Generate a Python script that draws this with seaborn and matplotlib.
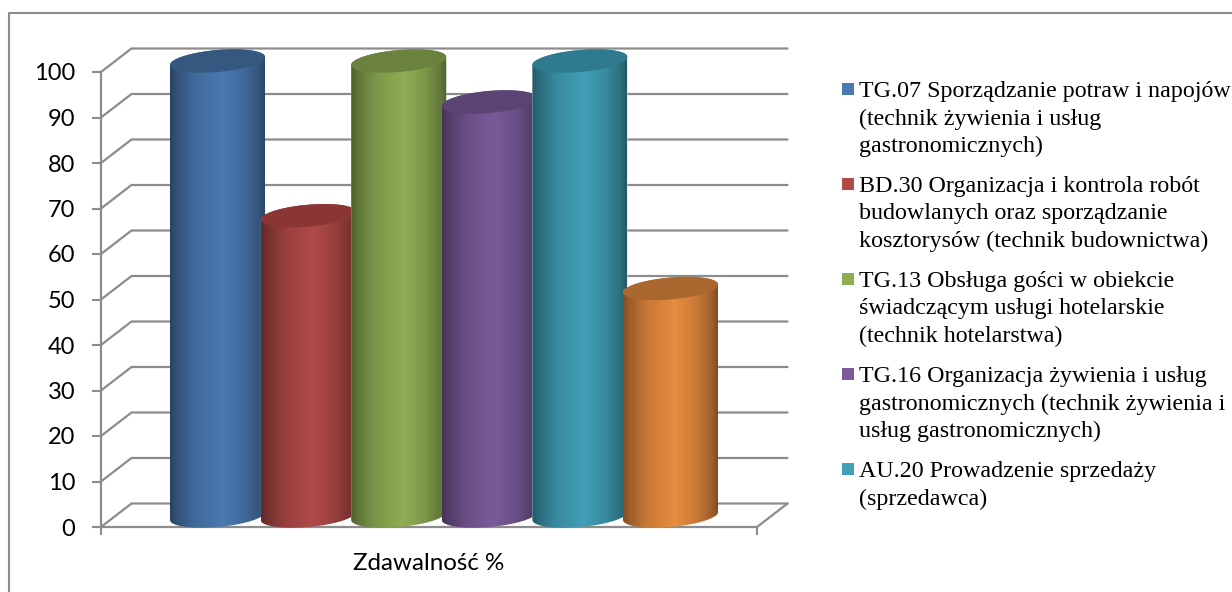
import numpy as np
import pandas as pd
import matplotlib
matplotlib.use("Agg")
import matplotlib.pyplot as plt
from matplotlib.patches import Rectangle, Polygon
import seaborn as sns

# values
category = "Zdawalność %"
series = ["TG.07", "BD.30", "TG.13", "TG.16", "AU.20", "inne"]
values = [100, 66, 100, 91, 100, 50]
colors = ["#4a7ab2", "#b04a48", "#8fae54", "#7a5b99", "#419fb8", "#e88c40"]
cap_colors = ["#34587f", "#8a3634", "#6b823f", "#5b4473", "#2f7a8e", "#aa6830"]
y_ticks = list(range(0, 101, 10))
legend_labels = [
    "TG.07 Sporządzanie potraw i napojów\n(technik żywienia i usług\ngastronomicznych)",
    "BD.30 Organizacja i kontrola robót\nbudowlanych oraz sporządzanie\nkosztorysów (technik budownictwa)",
    "TG.13 Obsługa gości w obiekcie\nświadczącym usługi hotelarskie\n(technik hotelarstwa)",
    "TG.16 Organizacja żywienia i usług\ngastronomicznych (technik żywienia i\nusług gastronomicznych)",
    "AU.20 Prowadzenie sprzedaży\n(sprzedawca)",
]

W, H = 1232, 592
GREY = "#8c8c8c"
sns.set_theme(style="white")
plt.rcParams["font.family"] = ["Lato", "DejaVu Sans"]

fig = plt.figure(figsize=(W / 100, H / 100), dpi=100)
# front plane of the fake 3d box, in pixels
left, right, top, bottom = 101, 757, 72, 527
ax = fig.add_axes([left / W, 1 - bottom / H, (right - left) / W, (bottom - top) / H])
ax.patch.set_alpha(0)

df = pd.DataFrame({"cat": category, "series": series, "value": values})
sns.barplot(data=df, x="cat", y="value", hue="series", hue_order=series, palette=colors,
            width=0.8287, gap=0, saturation=1, legend=False, ax=ax)
ax.set_xlim(-0.5, 0.5)
ax.set_ylim(0, 100)

px_x = 1 / (right - left)
px_y = 100 / (bottom - top)

# back wall and floor
dx, dy = 30.5 * px_x, 23.5 * px_y
for v in y_ticks:
    ax.plot([-0.5, -0.5 + dx, 0.5 + dx], [v, v + dy, v + dy], color=GREY, lw=1.6,
            clip_on=False, zorder=1, solid_joinstyle="miter")
ax.plot([0.5, 0.5 + dx], [0, dy], color=GREY, lw=1.6, clip_on=False, zorder=1)

# shading across one cylinder
stops = [0, 0.06, 0.25, 0.55, 0.78, 0.94, 1]
shade = [0.55, 0.66, 0.86, 1.0, 0.86, 0.68, 0.55]
xs = np.linspace(0, 1, 200)
t_low = np.linspace(np.pi, 2 * np.pi, 80)
t_high = np.linspace(0, np.pi, 80)
t_all = np.linspace(0, 2 * np.pi, 120)

bar_w = 95 * px_x
b_px, skew_px = 11.0, 4.0
for i, bar in enumerate(ax.patches):
    cx = bar.get_x() + bar.get_width() / 2 + 15 * px_x
    base = 11 * px_y
    v = base + bar.get_height()
    a = bar_w / 2
    sk, b = skew_px * px_y, b_px * px_y

    def arc(t, cy):
        return np.column_stack([cx + a * np.cos(t), cy + sk * np.cos(t) + b * np.sin(t)])

    body = Polygon(np.vstack([arc(t_low, base), arc(t_high, v)]), closed=True,
                   transform=ax.transData, fc="none", ec="none")
    ax.add_patch(body)
    body.set_clip_on(False)

    bar.set_x(cx - a)
    bar.set_width(bar_w)
    bar.set_y(base)
    bar.set_zorder(3 + i)
    bar.set_clip_box(fig.bbox)
    bar.set_clip_path(body)

    rgb = np.array(matplotlib.colors.to_rgb(colors[i]))
    grad = (np.interp(xs, stops, shade)[:, None] * rgb)[None, :, :]
    im = ax.imshow(grad, extent=[cx - a, cx + a, base - 2 * b, v + 2 * b], aspect="auto",
                   interpolation="bilinear", zorder=3 + i)
    im.set_clip_box(fig.bbox)
    im.set_clip_path(body)

    cap = Polygon(arc(t_all, v), closed=True, fc=cap_colors[i], ec="none",
                  zorder=3 + i, clip_on=False)
    ax.add_patch(cap)

ax.set_xlim(-0.5, 0.5)
ax.set_ylim(0, 100)

# axes
for s in ["top", "right"]:
    ax.spines[s].set_visible(False)
for s in ["left", "bottom"]:
    ax.spines[s].set_color(GREY)
    ax.spines[s].set_linewidth(1.6)
ax.set_xlabel("")
ax.set_ylabel("")
ax.set_yticks(y_ticks)
ax.tick_params(axis="y", left=True, length=6.5, width=1.5, color=GREY, pad=12,
               labelsize=17, labelcolor="black")
ax.set_xticks([0], [category])
ax.set_xticks([-0.5, 0.5], minor=True)
ax.tick_params(axis="x", which="major", bottom=False, pad=13, labelsize=17.4, labelcolor="black")
ax.tick_params(axis="x", which="minor", bottom=True, length=6, width=1.5, color=GREY)

# legend, placed by hand to keep the wrapped lines where they are
for i, label in enumerate(legend_labels):
    y = 89 + i * 95
    fig.add_artist(Rectangle((842 / W, 1 - (y + 6) / H), 12 / W, 12 / H, fc=colors[i], ec="none",
                             transform=fig.transFigure))
    fig.text(859 / W, 1 - (y - 8) / H, label, family=["Liberation Serif"], fontsize=17.25,
             color="black", va="top", ha="left", linespacing=1.4)

# outer frame, runs off the right and bottom of the image
fig.add_artist(plt.Line2D([9 / W, 9 / W, 1], [0, 1 - 13 / H, 1 - 13 / H], color=GREY, lw=1.5,
                          transform=fig.transFigure))

fig.savefig("out.png", dpi=100)
